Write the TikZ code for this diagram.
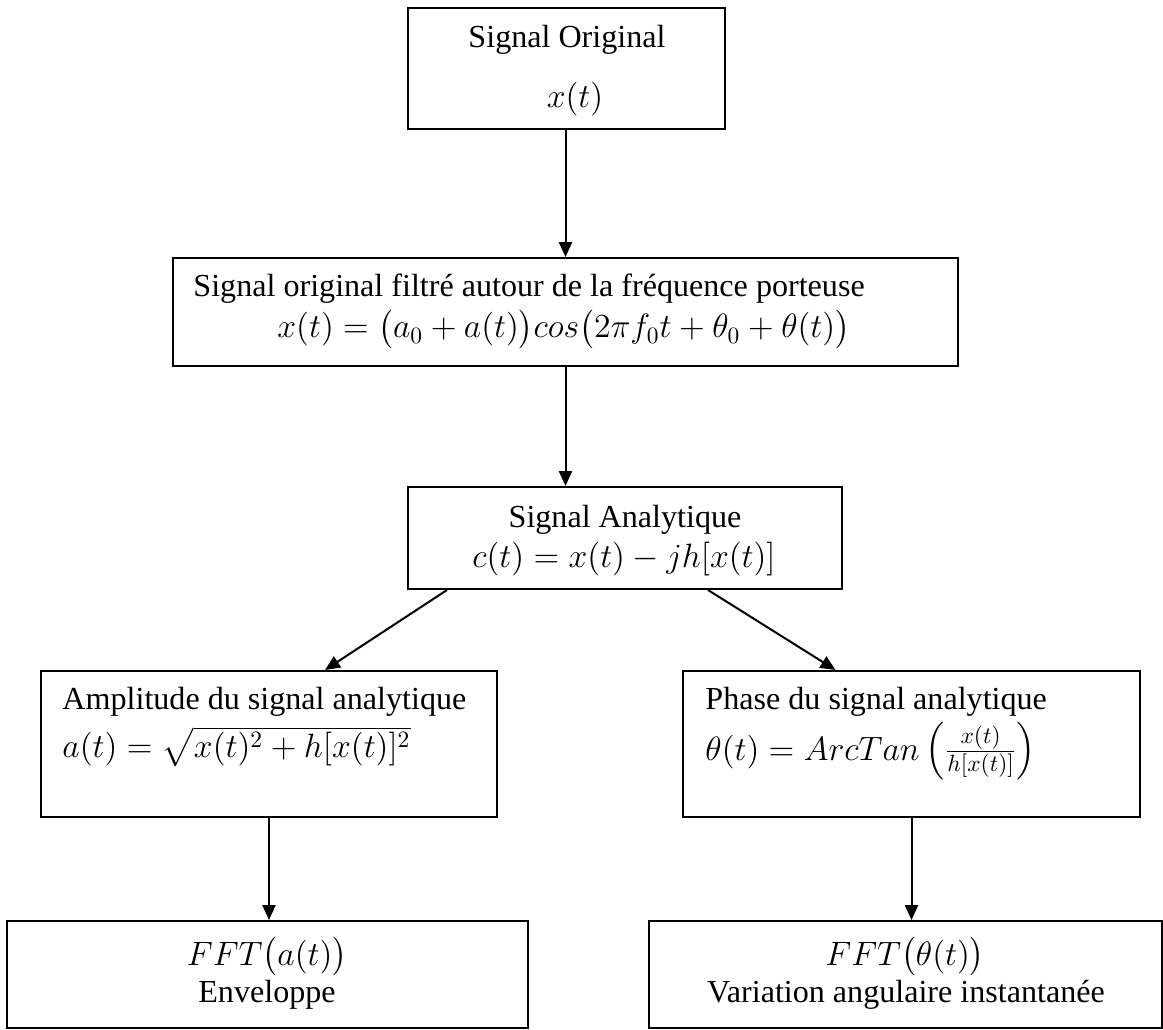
\documentclass[tikz,border=0pt]{standalone}
\usepackage{amsmath}
\usepackage{amssymb}
\usepackage{fontspec}
\setmainfont{Liberation Serif}
\usepackage{tikz}
\usetikzlibrary{arrows.meta}
\usetikzlibrary{calc}
\tikzset{
    bloc/.style={draw, line width=0.85pt, rectangle, inner sep=0pt},
    txt/.style={anchor=base, inner sep=0pt, font=\fontsize{13.7pt}{15pt}\selectfont},
    fleche/.style={line width=0.85pt, -{Triangle[length=6.4pt, width=5.6pt]}}
}

\begin{document}
\begin{tikzpicture}[x=0.015cm, y=-0.015cm]
    \useasboundingbox (0, 0) rectangle (1163, 1030);

    \node [bloc, minimum width=4.755cm, minimum height=1.815cm] (orig) at (566.5, 68.5) {};
    \node [bloc, minimum width=11.775cm, minimum height=1.62cm] (filt) at (565.5, 312) {};
    \node [bloc, minimum width=6.51cm, minimum height=1.53cm] (anal) at (625, 538) {};
    \node [bloc, minimum width=6.84cm, minimum height=2.19cm] (ampl) at (269, 744) {};
    \node [bloc, minimum width=6.855cm, minimum height=2.19cm] (phas) at (911.5, 744) {};
    \node [bloc, minimum width=7.815cm, minimum height=1.605cm] (ffta) at (267.5, 974.5) {};
    \node [bloc, minimum width=7.695cm, minimum height=1.605cm] (fftp) at (905.5, 974.5) {};

    \node [txt] (origtxt) at (567, 48) {Signal Original};
    \node [txt] (origeq) at (575, 108) {$x(t)$};
    \node [txt, anchor=base west] (filttxt) at (193, 297) {Signal original filtré autour de la fréquence porteuse};
    \node [txt, anchor=base west] (filteq) at (277, 338) {$x(t) = \bigl(a_0 + a(t)\bigr)cos\bigl(2\pi f_0 t + \theta_0 + \theta(t)\bigr)$};
    \node [txt] (analtxt) at (625, 527) {Signal Analytique};
    \node [txt] (analeq) at (624, 567) {$c(t) = x(t) - jh[x(t)]$};
    \node [txt, anchor=base west] (ampltxt) at (62, 709) {Amplitude du signal analytique};
    \node [txt, anchor=base west] (ampleq) at (62, 757) {$a(t) = \sqrt{x(t)^2 + h[x(t)]^2}$};
    \node [txt, anchor=base west] (phastxt) at (705, 709) {Phase du signal analytique};
    \node [txt, anchor=base west] (phaseq) at (705, 760) {$\theta(t) = ArcTan\left(\frac{x(t)}{h[x(t)]}\right)$};
    \node [txt] (fftaeq) at (267, 965) {$FFT\bigl(a(t)\bigr)$};
    \node [txt] (fftatxt) at (267, 1002) {Enveloppe};
    \node [txt] (fftpeq) at (905, 965) {$FFT\bigl(\theta(t)\bigr)$};
    \node [txt] (fftptxt) at (906, 1002) {Variation angulaire instantanée};

    \draw [fleche] (orig.south -| filt.north) -- (filt.north);
    \draw [fleche] (filt.south) -- (filt.south |- anal.north);
    \draw [fleche] ($(anal.south west)+(40, 0)$) -- ($(ampl.north)+(56, 0)$);
    \draw [fleche] ($(anal.south east)+(-135, 0)$) -- ($(phas.north)+(-76, 0)$);
    \draw [fleche] (ampl.south) -- (ampl.south |- ffta.north);
    \draw [fleche] (phas.south) -- (phas.south |- fftp.north);
  \end{tikzpicture}
\end{document}
